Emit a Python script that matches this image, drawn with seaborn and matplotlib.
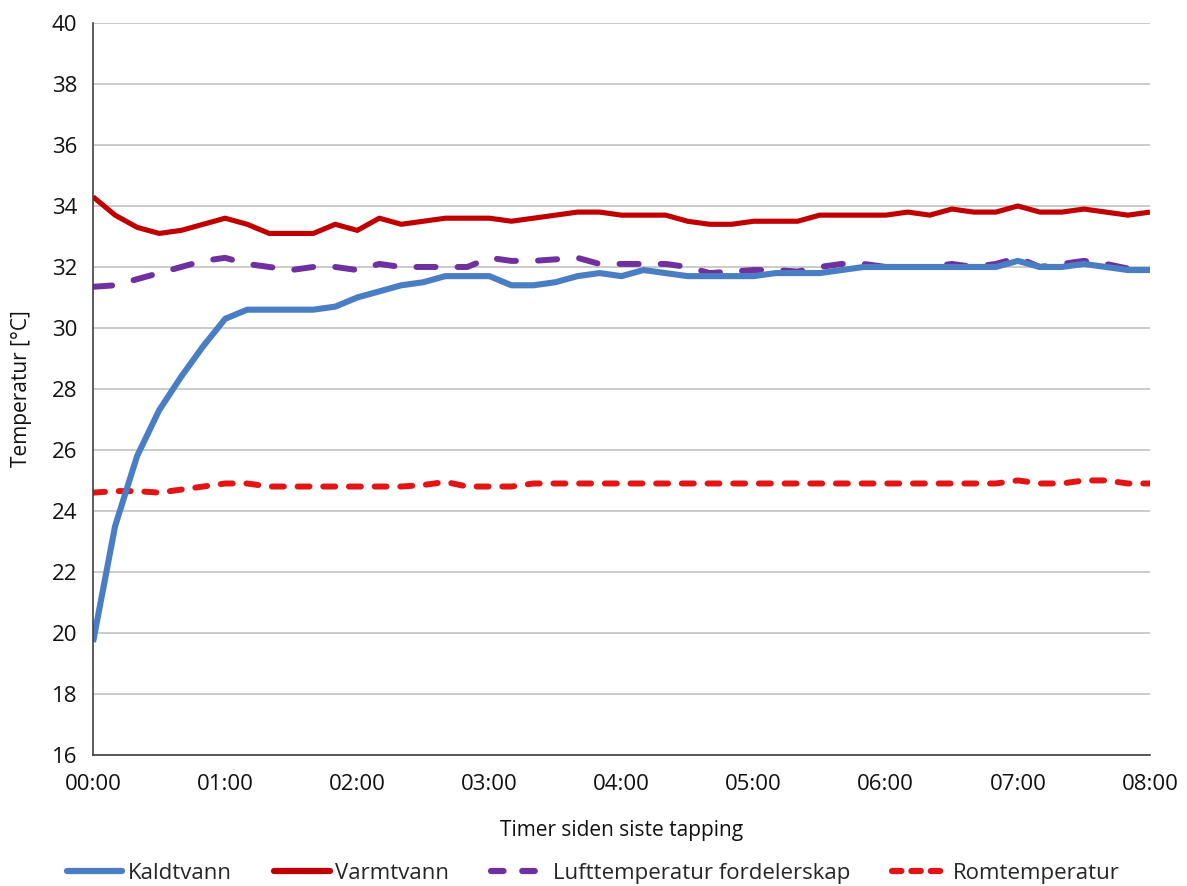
import numpy as np
import pandas as pd
import matplotlib
matplotlib.use("Agg")
import matplotlib.pyplot as plt
from matplotlib.lines import Line2D
import seaborn as sns

# time grid (minutes since last tapping), one sample every 10 minutes
minutes = list(range(0, 481, 10))

kaldtvann = [19.7, 23.5, 25.8, 27.3, 28.4, 29.4, 30.3, 30.6, 30.6, 30.6,
             30.6, 30.7, 31.0, 31.2, 31.4, 31.5, 31.7, 31.7, 31.7, 31.4,
             31.4, 31.5, 31.7, 31.8, 31.7, 31.9, 31.8, 31.7, 31.7, 31.7,
             31.7, 31.8, 31.8, 31.8, 31.9, 32.0, 32.0, 32.0, 32.0, 32.0,
             32.0, 32.0, 32.2, 32.0, 32.0, 32.1, 32.0, 31.9, 31.9]

varmtvann = [34.3, 33.7, 33.3, 33.1, 33.2, 33.4, 33.6, 33.4, 33.1, 33.1,
             33.1, 33.4, 33.2, 33.6, 33.4, 33.5, 33.6, 33.6, 33.6, 33.5,
             33.6, 33.7, 33.8, 33.8, 33.7, 33.7, 33.7, 33.5, 33.4, 33.4,
             33.5, 33.5, 33.5, 33.7, 33.7, 33.7, 33.7, 33.8, 33.7, 33.9,
             33.8, 33.8, 34.0, 33.8, 33.8, 33.9, 33.8, 33.7, 33.8]

luft_fordelerskap = [31.35, 31.4, 31.6, 31.8, 32.0, 32.2, 32.3, 32.1, 32.0, 31.9,
                     32.0, 32.0, 31.9, 32.1, 32.0, 32.0, 32.0, 32.0, 32.3, 32.2,
                     32.2, 32.25, 32.3, 32.1, 32.1, 32.1, 32.1, 32.0, 31.8, 31.85,
                     31.9, 31.9, 31.85, 32.0, 32.1, 32.1, 32.0, 32.0, 32.0, 32.1,
                     32.0, 32.1, 32.3, 32.0, 32.1, 32.2, 32.1, 31.95, 31.9]

romtemperatur = [24.6, 24.65, 24.65, 24.6, 24.7, 24.8, 24.9, 24.9, 24.8, 24.8,
                 24.8, 24.8, 24.8, 24.8, 24.8, 24.85, 24.95, 24.8, 24.8, 24.8,
                 24.9, 24.9, 24.9, 24.9, 24.9, 24.9, 24.9, 24.9, 24.9, 24.9,
                 24.9, 24.9, 24.9, 24.9, 24.9, 24.9, 24.9, 24.9, 24.9, 24.9,
                 24.9, 24.9, 25.0, 24.9, 24.9, 25.0, 25.0, 24.9, 24.9]

series_names = ["Kaldtvann", "Varmtvann", "Lufttemperatur fordelerskap", "Romtemperatur"]
series_values = [kaldtvann, varmtvann, luft_fordelerskap, romtemperatur]
x_tick_labels = ["00:00", "01:00", "02:00", "03:00", "04:00", "05:00", "06:00", "07:00", "08:00"]
y_ticks = list(range(16, 41, 2))

colors = {"Kaldtvann": "#4A7EC4", "Varmtvann": "#C00000",
          "Lufttemperatur fordelerskap": "#7030A0", "Romtemperatur": "#E41414"}
widths = {"Kaldtvann": 4.4, "Varmtvann": 3.7,
          "Lufttemperatur fordelerskap": 4.3, "Romtemperatur": 4.3}
dashes = {"Kaldtvann": "", "Varmtvann": "",
          "Lufttemperatur fordelerskap": (3.2, 3.7), "Romtemperatur": (2.0, 2.3)}

rows = []
for name, vals in zip(series_names, series_values):
    for m, v in zip(minutes, vals):
        rows.append({"hours": m / 60.0, "temp": v, "serie": name})
df = pd.DataFrame(rows)

sns.set_theme(style="white")
plt.rcParams["font.family"] = ["Open Sans", "DejaVu Sans"]

fig = plt.figure(figsize=(11.87, 8.86), dpi=100)
ax = fig.add_axes([0.0784, 0.148, 0.8904, 0.826])

for name in ["Romtemperatur", "Varmtvann", "Lufttemperatur fordelerskap", "Kaldtvann"]:
    sub = df[df["serie"] == name]
    sns.lineplot(data=sub, x="hours", y="temp", ax=ax, color=colors[name],
                 linewidth=widths[name], legend=False, estimator=None)
    line = ax.lines[-1]
    if dashes[name]:
        line.set_dashes(dashes[name])
        line.set_dash_capstyle("round")
        line.set_dash_joinstyle("round")
    else:
        line.set_solid_capstyle("butt")
        line.set_solid_joinstyle("round")

ax.set_xlim(0, 8)
ax.set_ylim(16, 40)
ax.set_xticks(range(0, 9))
ax.set_xticklabels(x_tick_labels)
ax.set_yticks(y_ticks)
ax.yaxis.grid(True, color="#BDBDBD", linewidth=1.1)
ax.xaxis.grid(False)
ax.set_axisbelow(True)
for s in ["top", "right"]:
    ax.spines[s].set_visible(False)
for s in ["left", "bottom"]:
    ax.spines[s].set_color("#404040")
    ax.spines[s].set_linewidth(1.2)
ax.tick_params(axis="both", which="both", direction="inout", length=11, width=1.2,
               color="#404040", labelsize=16, labelcolor="#111111")
ax.tick_params(axis="y", pad=6)
ax.tick_params(axis="x", pad=8)
ax.set_xlabel("Timer siden siste tapping", fontsize=15, color="#111111", labelpad=18)
ax.set_ylabel("Temperatur [°C]", fontsize=15, color="#111111", labelpad=14)

handles = [Line2D([0], [0], color=colors["Kaldtvann"], lw=4.5),
           Line2D([0], [0], color=colors["Varmtvann"], lw=4.5),
           Line2D([0], [0], color=colors["Lufttemperatur fordelerskap"], lw=4.5,
                  dashes=(2.0, 3.0), dash_capstyle="round"),
           Line2D([0], [0], color=colors["Romtemperatur"], lw=4.5,
                  dashes=(1.5, 1.6), dash_capstyle="round")]
fig.legend(handles, series_names, loc="center", bbox_to_anchor=(0.5, 0.014),
           ncol=4, frameon=False, fontsize=16, handlelength=2.5,
           handletextpad=0.25, columnspacing=1.9)

fig.savefig("out.png", dpi=100)
